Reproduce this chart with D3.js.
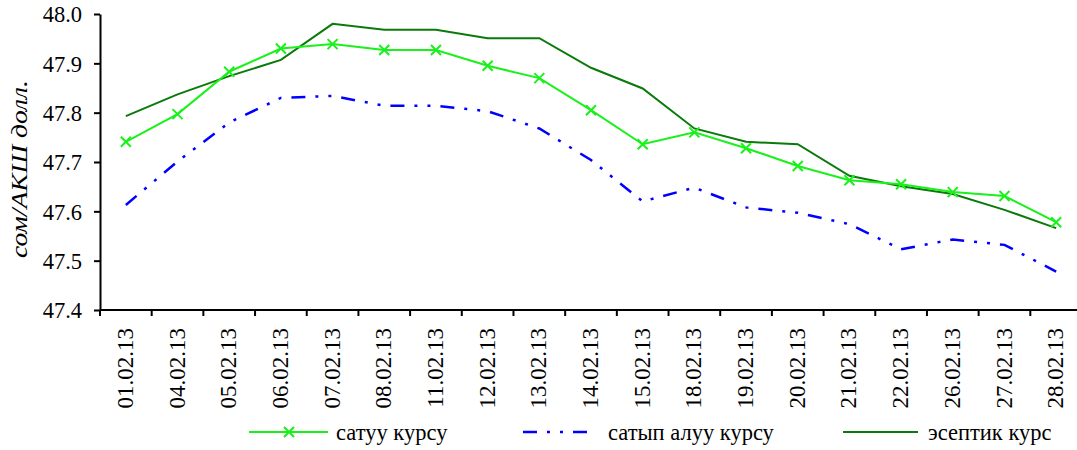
<!DOCTYPE html>
<html>
<head>
<meta charset="utf-8">
<script src="https://cdn.jsdelivr.net/npm/d3@7"></script>
<style>
  html, body { margin: 0; padding: 0; background: #fff; }
  svg text { font-family: "Liberation Serif", "Times New Roman", "DejaVu Serif", serif !important; fill: #000; }
</style>
</head>
<body>
<svg id="chart" width="1077" height="450"></svg>
<script>
const dates = ["01.02.13","04.02.13","05.02.13","06.02.13","07.02.13","08.02.13","11.02.13","12.02.13","13.02.13","14.02.13","15.02.13","18.02.13","19.02.13","20.02.13","21.02.13","22.02.13","26.02.13","27.02.13","28.02.13"];
const sellRate = [47.741,47.797,47.883,47.930,47.939,47.927,47.927,47.895,47.870,47.805,47.736,47.760,47.728,47.692,47.663,47.655,47.639,47.631,47.578];
const buyRate = [47.613,47.701,47.780,47.830,47.834,47.814,47.814,47.803,47.768,47.704,47.620,47.648,47.608,47.597,47.574,47.523,47.543,47.532,47.478];
const officialRate = [47.793,47.837,47.874,47.907,47.980,47.968,47.968,47.951,47.951,47.891,47.849,47.768,47.741,47.736,47.672,47.651,47.635,47.603,47.566];
const yTicks = [47.4,47.5,47.6,47.7,47.8,47.9,48.0];
const seriesNames = ["сатуу курсу","сатып алуу курсу","эсептик курс"];
const yTitle = "сом/АКШ долл.";

const svg = d3.select("#chart");
const mLeft = 100, mRight = 1082, mTop = 14, mBottom = 310;

const x = d3.scaleBand().domain(dates).range([mLeft, mRight]).padding(0);
const y = d3.scaleLinear().domain([47.4, 48.0]).range([mBottom, mTop]);
const cx = d => x(d) + x.bandwidth() / 2;

// Y axis
const yAxis = svg.append("g").attr("transform", `translate(${mLeft},0)`)
  .call(d3.axisLeft(y).tickValues(yTicks).tickSize(6).tickSizeOuter(0).tickFormat(d3.format(".1f")));
yAxis.select(".domain").attr("stroke", "#000").attr("stroke-width", 2);
yAxis.selectAll(".tick line").attr("stroke", "#000").attr("stroke-width", 2);
yAxis.selectAll(".tick text").style("font-size", "22.5px").attr("x", -18).attr("dy", "0.35em");

// X axis labels
const xAxis = svg.append("g").attr("transform", `translate(0,${mBottom})`)
  .call(d3.axisBottom(x).tickSize(0).tickSizeOuter(0));
xAxis.select(".domain").remove();
xAxis.selectAll(".tick text")
  .style("font-size", "23px")
  .attr("text-anchor", "end")
  .attr("transform", "rotate(-90)")
  .attr("x", -18).attr("y", -1).attr("dy", "0.35em");

// X axis line and boundary ticks
svg.append("line").attr("x1", mLeft).attr("x2", mRight).attr("y1", mBottom).attr("y2", mBottom)
  .attr("stroke", "#000").attr("stroke-width", 2);
const bounds = dates.map(d => x(d)).concat([x.range()[1]]);
svg.append("g").selectAll("line").data(bounds).join("line")
  .attr("x1", d => d).attr("x2", d => d).attr("y1", mBottom).attr("y2", mBottom + 6)
  .attr("stroke", "#000").attr("stroke-width", 2);

// Y title
svg.append("text").attr("transform", "translate(27,169) rotate(-90)")
  .attr("text-anchor", "middle").style("font-size", "24px").style("font-style", "italic")
  .attr("textLength", 178).attr("lengthAdjust", "spacingAndGlyphs")
  .text(yTitle);

const line = vals => d3.line().x((d, i) => cx(dates[i])).y(d => y(d))(vals);

const darkGreen = "#0a7a0a", brightGreen = "#1af01a", blue = "#0000ff";
const dashBlue = "14,10,3,10,3,10";

svg.append("path").attr("d", line(officialRate)).attr("fill", "none")
  .attr("stroke", darkGreen).attr("stroke-width", 2);
svg.append("path").attr("d", line(buyRate)).attr("fill", "none")
  .attr("stroke", blue).attr("stroke-width", 2.5).attr("stroke-dasharray", dashBlue);
svg.append("path").attr("d", line(sellRate)).attr("fill", "none")
  .attr("stroke", brightGreen).attr("stroke-width", 2);

const xMark = (g, px, py, s) => {
  g.append("path").attr("d", `M${px - s},${py - s}L${px + s},${py + s}M${px - s},${py + s}L${px + s},${py - s}`)
    .attr("stroke", brightGreen).attr("stroke-width", 2).attr("fill", "none");
};
const mg = svg.append("g");
sellRate.forEach((v, i) => xMark(mg, cx(dates[i]), y(v), 5));

// Legend
const lg = svg.append("g");
const ly = 432, ty = 440;
lg.append("line").attr("x1", 249).attr("x2", 328).attr("y1", ly).attr("y2", ly)
  .attr("stroke", brightGreen).attr("stroke-width", 2);
xMark(lg, 289, ly, 5);
lg.append("text").attr("x", 336).attr("y", ty).style("font-size", "22.5px").text(seriesNames[0]);

lg.append("line").attr("x1", 523).attr("x2", 596).attr("y1", ly).attr("y2", ly)
  .attr("stroke", blue).attr("stroke-width", 2.5).attr("stroke-dasharray", dashBlue);
lg.append("text").attr("x", 608).attr("y", ty).style("font-size", "22.5px").text(seriesNames[1]);

lg.append("line").attr("x1", 843).attr("x2", 918).attr("y1", ly).attr("y2", ly)
  .attr("stroke", darkGreen).attr("stroke-width", 2);
lg.append("text").attr("x", 928).attr("y", ty).style("font-size", "22.5px").text(seriesNames[2]);
</script>
</body>
</html>
